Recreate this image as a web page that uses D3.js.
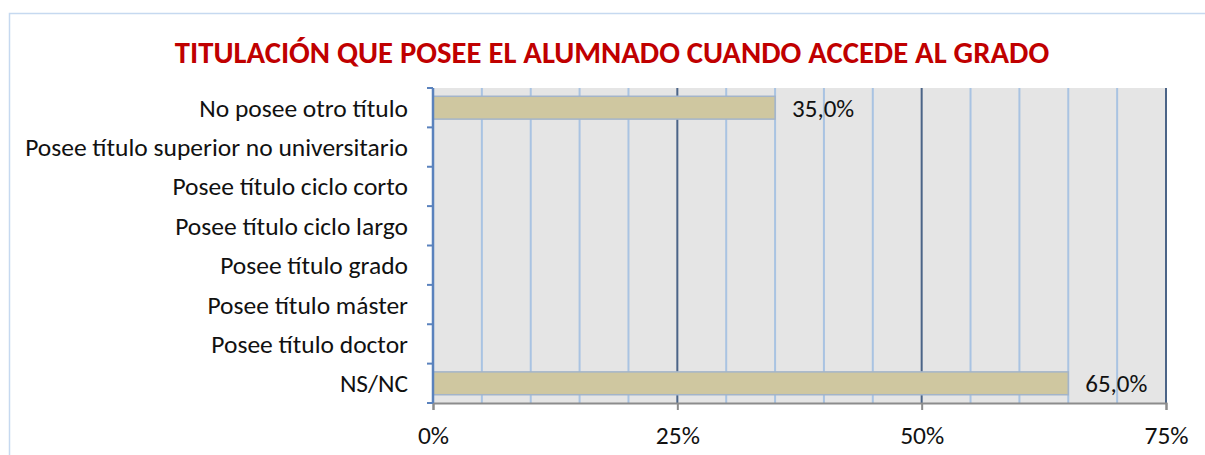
<!DOCTYPE html>
<html><head><meta charset="utf-8">
<script src="https://cdn.jsdelivr.net/npm/d3@7"></script>
<style>body{margin:0;background:#fff;} svg{display:block;}</style>
</head><body>
<svg id="chart" width="1205" height="455"></svg>
<script>
const categories = ["No posee otro título","Posee título superior no universitario","Posee título ciclo corto","Posee título ciclo largo","Posee título grado","Posee título máster","Posee título doctor","NS/NC"];
const values = [35.0, 0, 0, 0, 0, 0, 0, 65.0];
const tickValues = [0, 25, 50, 75];
const gridValues = [5,10,15,20,30,35,40,45,55,60,65,70];
const title = "TITULACIÓN QUE POSEE EL ALUMNADO CUANDO ACCEDE AL GRADO";

const svg = d3.select("#chart");
const font = "Carlito, Calibri, 'Open Sans', sans-serif";
const L = 433, R = 1166, T = 88, B = 403;

// outer frame
svg.append("path").attr("d", `M9.5,455 L9.5,13.5 L1205,13.5`).attr("fill","none").attr("stroke","#c6d9f0").attr("stroke-width",1.5);

svg.append("text").attr("x", 612).attr("y", 63).attr("text-anchor","middle")
  .attr("font-family", font).attr("font-weight","bold").attr("font-size", 30.7).attr("fill","#c00000").text(title);

const x = d3.scaleLinear().domain([0,75]).range([L,R]);
const y = d3.scaleBand().domain(categories).range([T,B]).paddingInner(0.42).paddingOuter(0.21);

svg.append("rect").attr("x",L).attr("y",T).attr("width",R-L).attr("height",B-T).attr("fill","#e5e5e5");

svg.selectAll("line.minor").data(gridValues).join("line").attr("class","minor")
  .attr("x1",d=>x(d)).attr("x2",d=>x(d)).attr("y1",T).attr("y2",B)
  .attr("stroke","#a9c3e2").attr("stroke-width",2);
svg.selectAll("line.major").data(tickValues.slice(1)).join("line").attr("class","major")
  .attr("x1",d=>x(d)).attr("x2",d=>x(d)).attr("y1",T).attr("y2",B)
  .attr("stroke","#4b6487").attr("stroke-width",2);

// bars
svg.selectAll("rect.bar").data(categories.map((c,i)=>({c,v:values[i]})).filter(d=>d.v>0)).join("rect").attr("class","bar")
  .attr("x",x(0)).attr("y",d=>y(d.c)).attr("width",d=>x(d.v)-x(0)).attr("height",y.bandwidth())
  .attr("fill","#cfc7a0").attr("stroke","#a3b4c9").attr("stroke-width",1.5);

svg.selectAll("text.val").data(categories.map((c,i)=>({c,v:values[i]})).filter(d=>d.v>0)).join("text").attr("class","val")
  .attr("x",d=>x(d.v)+17).attr("y",d=>y(d.c)+y.bandwidth()/2+9)
  .attr("font-family",font).attr("font-size",25).attr("fill","#111")
  .text(d=>d.v.toFixed(1).replace(".",",")+"%");

// bottom axis
const xAxis = svg.append("g").attr("transform",`translate(0,${B})`)
  .call(d3.axisBottom(x).tickValues(tickValues).tickSize(7).tickPadding(14).tickFormat(d=>d+"%"));
xAxis.select(".domain").attr("stroke","#8c8c8c").attr("stroke-width",2);
xAxis.selectAll(".tick line").attr("stroke","#8c8c8c").attr("stroke-width",2);
xAxis.selectAll("text").attr("font-family",font).attr("font-size",25.5).attr("fill","#111")
  .attr("dy",null).attr("y",41);

// left axis
const bandEdges = d3.range(categories.length+1).map(i=>T+i*(B-T)/categories.length);
svg.append("line").attr("x1",L).attr("x2",L).attr("y1",T).attr("y2",B).attr("stroke","#5a82bd").attr("stroke-width",2.5);
svg.selectAll("line.ltick").data(bandEdges).join("line").attr("class","ltick")
  .attr("x1",L-6).attr("x2",L).attr("y1",d=>d).attr("y2",d=>d).attr("stroke","#5a82bd").attr("stroke-width",2);

svg.selectAll("text.cat").data(categories).join("text").attr("class","cat")
  .attr("x",408).attr("y",d=>y(d)+y.bandwidth()/2+9).attr("text-anchor","end")
  .attr("font-family",font).attr("font-size",25.5).attr("fill","#111").text(d=>d);
</script>
</body></html>
